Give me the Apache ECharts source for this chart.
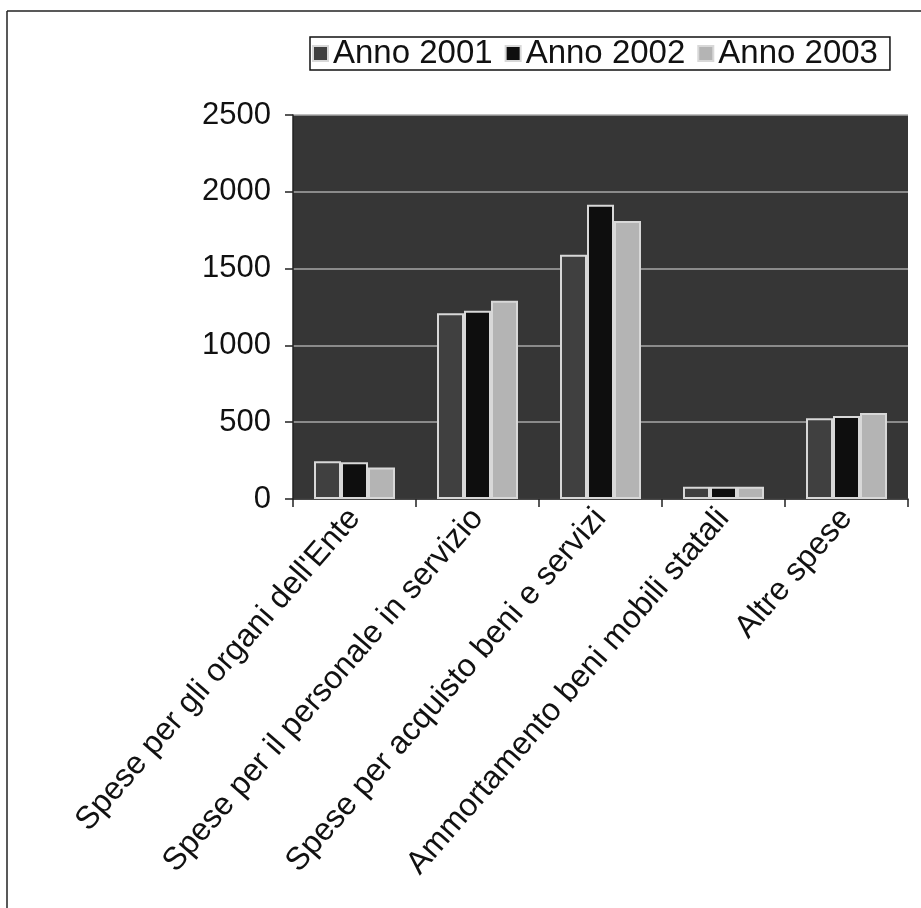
<!DOCTYPE html>
<html>
<head>
<meta charset="utf-8">
<script src="https://cdn.jsdelivr.net/npm/echarts@6/dist/echarts.min.js"></script>
<style>
html,body{margin:0;padding:0;background:#fff;}
#chart{width:921px;height:908px;}
</style>
</head>
<body>
<div id="chart"></div>
<script>
const categories = [
  "Spese per gli organi dell'Ente",
  "Spese per il personale in servizio",
  "Spese per acquisto beni e servizi",
  "Ammortamento beni mobili statali",
  "Altre spese"
];
const seriesNames = ["Anno 2001", "Anno 2002", "Anno 2003"];
const anno2001 = [245, 1210, 1590, 80, 525];
const anno2002 = [240, 1225, 1915, 80, 540];
const anno2003 = [205, 1290, 1810, 80, 560];
const yTicks = [0, 500, 1000, 1500, 2000, 2500];

const FONT = "Liberation Sans, Arial, sans-serif";
const colors = ["#404040", "#0e0e0e", "#b4b4b4"];
const values = [anno2001, anno2002, anno2003];

const chart = echarts.init(document.getElementById('chart'), null, {renderer: 'canvas'});
chart.setOption({
  backgroundColor: '#ffffff',
  animation: false,
  textStyle: {fontFamily: FONT},
  legend: {
    left: 310, top: 37,
    data: seriesNames,
    itemWidth: 15, itemHeight: 15, itemGap: 12,
    padding: [0, 12, 0, 2],
    borderColor: '#111', borderWidth: 1.5,
    textStyle: {fontFamily: FONT, fontSize: 33, color: '#111'},
    icon: 'rect'
  },
  grid: {
    left: 293, right: 13, top: 115, bottom: 409,
    show: true, backgroundColor: '#363636', borderWidth: 0
  },
  xAxis: {
    type: 'category',
    data: categories,
    axisLine: {lineStyle: {color: '#222', width: 1.5}},
    axisTick: {show: true, length: 8, lineStyle: {color: '#222', width: 1.5}},
    axisLabel: {rotate: 49, interval: 0, margin: 14, fontSize: 32, color: '#111', fontFamily: FONT}
  },
  yAxis: {
    type: 'value',
    min: yTicks[0], max: yTicks[yTicks.length - 1], interval: 500,
    axisLine: {show: true, lineStyle: {color: '#222', width: 1.5}},
    axisTick: {show: true, length: 8, lineStyle: {color: '#222', width: 1.5}},
    axisLabel: {fontSize: 31, color: '#111', margin: 22, fontFamily: FONT, formatter: v => String(v)},
    splitLine: {show: true, lineStyle: {color: '#a8a8a8', width: 1.5}}
  },
  series: seriesNames.map((name, i) => ({
    name: name,
    type: 'bar',
    data: values[i],
    barWidth: 27,
    barGap: '0%',
    itemStyle: {color: colors[i], borderColor: '#d8d8d8', borderWidth: 2}
  })),
  graphic: [
    {type: 'line', shape: {x1: 7, y1: 11, x2: 921, y2: 11}, style: {stroke: '#222', lineWidth: 1.5}},
    {type: 'line', shape: {x1: 7, y1: 11, x2: 7, y2: 908}, style: {stroke: '#222', lineWidth: 1.5}}
  ]
});
</script>
</body>
</html>
